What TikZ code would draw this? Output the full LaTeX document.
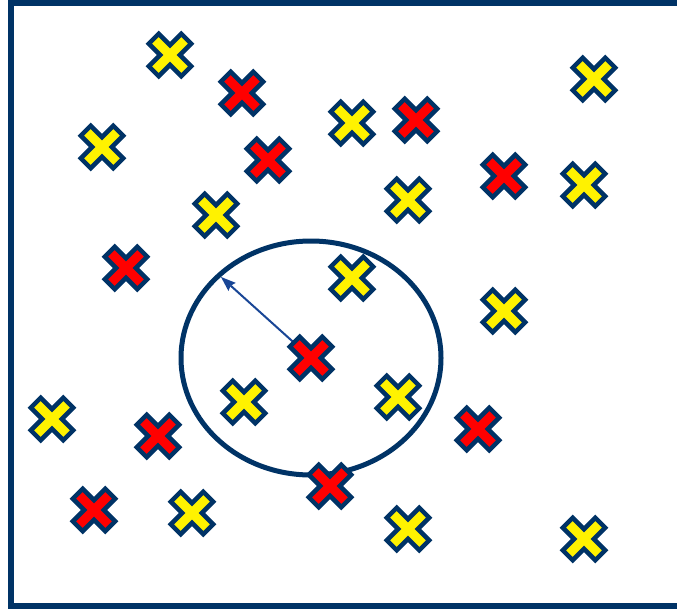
\documentclass[tikz,border=0pt]{standalone}
\usetikzlibrary{calc, shapes.geometric}
\definecolor{navy}{RGB}{0,51,102}
\definecolor{arrowblue}{RGB}{25,70,150}
\tikzset{
  xmark/.pic={
    \draw[pic actions, draw=navy, line width=4.5pt, line join=miter, rotate=45]
      (7,7) -- (7,23) -- (-7,23) -- (-7,7) -- (-23,7) -- (-23,-7) -- (-7,-7)
      -- (-7,-23) -- (7,-23) -- (7,-7) -- (23,-7) -- (23,7) -- cycle;
  },
  redx/.style={fill=red},
  yelx/.style={fill=yellow}
}
\begin{document}
\begin{tikzpicture}[x=1pt, y=-1pt]
\useasboundingbox (0,0) rectangle (677,610);
% frame, open on the right
\draw[navy, line width=6pt] (677,3) -- (10.5,3) -- (10.5,606) -- (677,606);
% neighbourhood
\node[draw=navy, line width=5pt, ellipse, minimum width=260pt, minimum height=234pt, inner sep=0pt] (ring) at (311,358) {};
\coordinate (ctr) at (ring.center);
\coordinate (tip) at ($(ring.138)!5pt!(ctr)$);
\coordinate (base) at ($(tip)!13pt!(ctr)$);
\draw[arrowblue, line width=2pt] (ctr) -- (base);
\fill[arrowblue] (tip) -- ($(tip)!16pt!20:(ctr)$) -- (base) -- ($(tip)!16pt!-20:(ctr)$) -- cycle;
% points
\foreach \x/\y in {170/55, 102/147, 352/123, 594/79, 216/215, 408/200, 584/185, 352/278, 504/311, 52/419, 244/402, 398/397, 192/513, 408/529, 584/539}
  \pic[yelx] at (\x,\y) {xmark};
\foreach \x/\y in {242/93, 416/120, 268/160, 504/176, 126/268, 158/436, 478/429, 94/510, 330/486}
  \pic[redx] at (\x,\y) {xmark};
\pic[redx] at (ctr) {xmark};
\end{tikzpicture}
\end{document}
